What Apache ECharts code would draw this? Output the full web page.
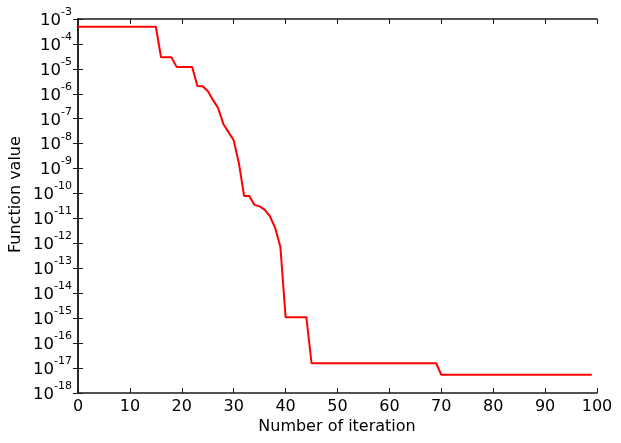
<!DOCTYPE html>
<html>
<head>
<meta charset="utf-8">
<script src="https://cdn.jsdelivr.net/npm/echarts@6/dist/echarts.min.js"></script>
<style>html,body{margin:0;padding:0;background:#fff}#c{width:621px;height:443px}</style>
</head>
<body>
<div id="c"></div>
<script>
const xTicks = [0, 10, 20, 30, 40, 50, 60, 70, 80, 90, 100];
const yExponents = [-3, -4, -5, -6, -7, -8, -9, -10, -11, -12, -13, -14, -15, -16, -17, -18];
const xLabel = 'Number of iteration';
const yLabel = 'Function value';
const functionValues = [
  4.9e-4, 4.9e-4, 4.9e-4, 4.9e-4, 4.9e-4, 4.9e-4, 4.9e-4, 4.9e-4,
  4.9e-4, 4.9e-4, 4.9e-4, 4.9e-4, 4.9e-4, 4.9e-4, 4.9e-4, 4.9e-4,
  2.9e-5, 2.9e-5, 2.9e-5,
  1.2e-5, 1.2e-5, 1.2e-5, 1.2e-5,
  2.07e-6, 2.0e-6, 1.3e-6, 5.7e-7, 2.7e-7, 6.2e-8, 2.9e-8, 1.37e-8, 1.65e-9,
  8.0e-11, 8.0e-11, 3.5e-11, 3.05e-11, 2.2e-11, 1.2e-11, 4.1e-12, 7.1e-13,
  1.1e-15, 1.1e-15, 1.1e-15, 1.1e-15, 1.1e-15,
  1.56e-17, 1.56e-17, 1.56e-17, 1.56e-17, 1.56e-17, 1.56e-17, 1.56e-17, 1.56e-17,
  1.56e-17, 1.56e-17, 1.56e-17, 1.56e-17, 1.56e-17, 1.56e-17, 1.56e-17, 1.56e-17,
  1.56e-17, 1.56e-17, 1.56e-17, 1.56e-17, 1.56e-17, 1.56e-17, 1.56e-17, 1.56e-17,
  1.56e-17,
  5.4e-18, 5.4e-18, 5.4e-18, 5.4e-18, 5.4e-18, 5.4e-18, 5.4e-18, 5.4e-18,
  5.4e-18, 5.4e-18, 5.4e-18, 5.4e-18, 5.4e-18, 5.4e-18, 5.4e-18, 5.4e-18,
  5.4e-18, 5.4e-18, 5.4e-18, 5.4e-18, 5.4e-18, 5.4e-18, 5.4e-18, 5.4e-18,
  5.4e-18, 5.4e-18, 5.4e-18, 5.4e-18, 5.4e-18, 5.4e-18
];

const FONT = '"DejaVu Sans", sans-serif';
const chart = echarts.init(document.getElementById('c'), null, {renderer: 'canvas'});
const lineStyleAxis = {color: '#1a1a1a', width: 1.5};
const tickStyle = {color: '#1a1a1a', width: 1};
const yMin = Math.pow(10, Math.min(...yExponents));
const yMax = Math.pow(10, Math.max(...yExponents));

chart.setOption({
  animation: false,
  backgroundColor: '#fff',
  grid: {left: 78, right: 24, top: 19, bottom: 50, containLabel: false},
  graphic: [
    {
      type: 'text', silent: true,
      x: 8, y: 253, rotation: Math.PI / 2,
      style: {text: yLabel, font: '16px ' + FONT, fill: '#000'}
    },
    {
      type: 'text', silent: true,
      x: 337, y: 427,
      style: {text: xLabel, font: '16px ' + FONT, fill: '#000', align: 'center', verticalAlign: 'middle'}
    }
  ],
  xAxis: [
    {
      type: 'value', min: xTicks[0], max: xTicks[xTicks.length - 1], interval: 10,
      position: 'bottom',
      axisLine: {show: true, lineStyle: lineStyleAxis},
      axisTick: {show: true, inside: true, length: 5, lineStyle: tickStyle},
      axisLabel: {fontFamily: FONT, fontSize: 16, color: '#000', margin: 6},
      splitLine: {show: false}
    },
    {
      type: 'value', min: xTicks[0], max: xTicks[xTicks.length - 1], interval: 10,
      position: 'top',
      axisLine: {show: true, lineStyle: lineStyleAxis},
      axisTick: {show: true, inside: true, length: 5, lineStyle: tickStyle},
      axisLabel: {show: false},
      splitLine: {show: false}
    }
  ],
  yAxis: [
    {
      type: 'log', logBase: 10, min: yMin, max: yMax, interval: 1,
      position: 'left',
      axisLine: {show: true, lineStyle: lineStyleAxis},
      axisTick: {show: true, inside: true, length: 5, lineStyle: tickStyle},
      minorTick: {show: false},
      axisLabel: {
        margin: 6, align: 'right', interval: 0, hideOverlap: false,
        padding: [3, 0, 0, 0],
        formatter: function (v) {
          const e = Math.round(Math.log10(v));
          return '{b|10}{s|' + e + '}';
        },
        rich: {
          b: {fontFamily: FONT, fontSize: 16.5, color: '#000', verticalAlign: 'middle', lineHeight: 28},
          s: {fontFamily: FONT, fontSize: 11, color: '#000', verticalAlign: 'top'}
        }
      },
      splitLine: {show: false}
    },
    {
      type: 'log', logBase: 10, min: yMin, max: yMax, interval: 1,
      position: 'right',
      axisLine: {show: true, lineStyle: lineStyleAxis},
      axisTick: {show: true, inside: true, length: 5, lineStyle: tickStyle},
      minorTick: {show: false},
      axisLabel: {show: false},
      splitLine: {show: false}
    }
  ],
  series: [{
    type: 'line',
    xAxisIndex: 0, yAxisIndex: 0,
    data: functionValues.map((v, i) => [i, v]),
    showSymbol: false,
    lineStyle: {color: '#ff0000', width: 2},
    itemStyle: {color: '#ff0000'}
  }]
});
</script>
</body>
</html>
